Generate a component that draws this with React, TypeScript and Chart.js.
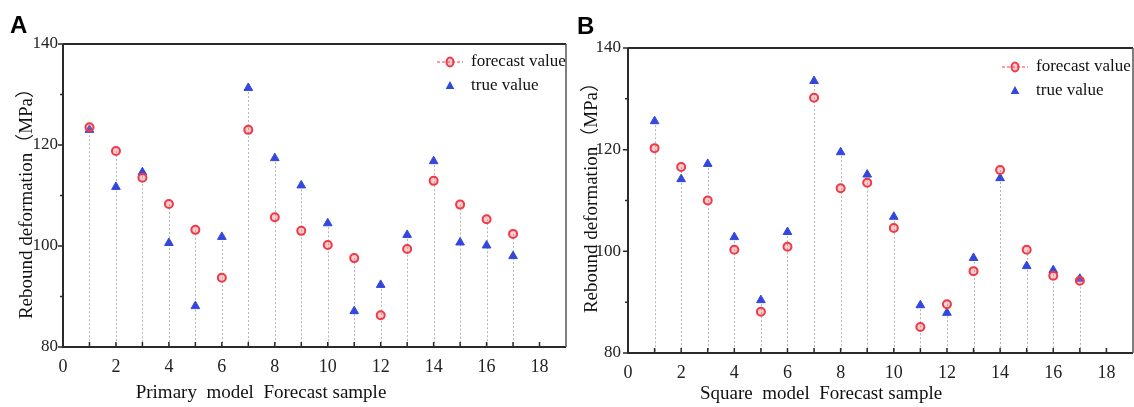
import { useEffect, useRef } from "react";
import { Chart, registerables } from "chart.js";

Chart.register(...registerables);

// Forecast sample numbers (x positions)
const samples = [1, 2, 3, 4, 5, 6, 7, 8, 9, 10, 11, 12, 13, 14, 15, 16, 17];

// Primary model (panel A), rebound deformation in MPa
const primaryForecast = [123.5, 118.8, 113.5, 108.3, 103.2, 93.7, 123.0, 105.7, 103.0, 100.2, 97.6, 86.3, 99.4, 112.9, 108.2, 105.3, 102.4];
const primaryTrue = [123.0, 111.7, 114.6, 100.6, 88.1, 101.8, 131.3, 117.4, 112.0, 104.5, 87.1, 92.3, 102.2, 116.8, 100.7, 100.1, 98.0];

// Square model (panel B)
const squareForecast = [120.3, 116.6, 110.0, 100.3, 88.1, 100.9, 130.2, 112.4, 113.5, 104.6, 85.1, 89.6, 96.1, 116.0, 100.3, 95.2, 94.2];
const squareTrue = [125.6, 114.2, 117.2, 102.8, 90.4, 103.8, 133.5, 119.5, 115.1, 106.8, 89.4, 87.9, 98.7, 114.4, 97.1, 96.3, 94.6];

// Axis ranges and labels
const xMin = 0;
const xMax = 19;
const xTickLabels = [0, 2, 4, 6, 8, 10, 12, 14, 16, 18];
const yMin = 80;
const yMax = 140;
const yTickLabels = [80, 100, 120, 140];
const yMinorTicks = [90, 110, 130];

const SERIF = '"Liberation Serif", "Times New Roman", "Noto Sans CJK SC", serif';
const SANS = '"Liberation Sans", Arial, sans-serif';
const RED = "#ee3a46";
const BLUE = "#3347dc";

type PanelLayout = {
  letter: string;
  xTitle: string;
  forecast: number[];
  truth: number[];
  padTop: number;
  yAxisWidth: number;
  xAxisHeight: number;
  tickPad: number;
  letterPos: [number, number];
  yTitlePos: [number, number];
  xTitlePos: [number, number];
  legendMarkX: number;
  legendY: number;
  legendTextX: number;
};

function drawTriangle(ctx: CanvasRenderingContext2D, x: number, y: number, r: number) {
  ctx.beginPath();
  ctx.moveTo(x, y - r);
  ctx.lineTo(x + r * 0.87, y + r * 0.6);
  ctx.lineTo(x - r * 0.87, y + r * 0.6);
  ctx.closePath();
  ctx.fillStyle = BLUE;
  ctx.fill();
}

function drawCircleMark(ctx: CanvasRenderingContext2D, x: number, y: number) {
  ctx.beginPath();
  ctx.ellipse(x, y, 3.5, 4.5, 0, 0, Math.PI * 2);
  ctx.fillStyle = "rgba(240,110,120,0.35)";
  ctx.fill();
  ctx.lineWidth = 2;
  ctx.strokeStyle = RED;
  ctx.stroke();
}

function makePlugin(p: PanelLayout) {
  return {
    id: "panelDecor",
    beforeDatasetsDraw(chart: any) {
      const { ctx, chartArea, scales } = chart;
      ctx.save();
      ctx.strokeStyle = "#b4b4b4";
      ctx.lineWidth = 1;
      ctx.setLineDash([2, 2]);
      samples.forEach((s, i) => {
        const top = Math.max(p.forecast[i], p.truth[i]);
        const x = Math.round(scales.x.getPixelForValue(s)) + 0.5;
        ctx.beginPath();
        ctx.moveTo(x, scales.y.getPixelForValue(top));
        ctx.lineTo(x, chartArea.bottom);
        ctx.stroke();
      });
      ctx.restore();
    },
    afterDraw(chart: any) {
      const { ctx, chartArea, scales } = chart;
      const { left, right, top, bottom } = chartArea;
      ctx.save();

      // frame
      ctx.strokeStyle = "#2a2a2a";
      ctx.lineWidth = 2;
      ctx.beginPath();
      ctx.moveTo(left, top);
      ctx.lineTo(right, top);
      ctx.moveTo(left, top);
      ctx.lineTo(left, bottom);
      ctx.lineTo(right, bottom);
      ctx.stroke();
      ctx.strokeStyle = "#555";
      ctx.lineWidth = 1.5;
      ctx.beginPath();
      ctx.moveTo(right, top);
      ctx.lineTo(right, bottom);
      ctx.stroke();

      // tick marks: y outward, x inward
      ctx.strokeStyle = "#2a2a2a";
      ctx.lineWidth = 1.5;
      ctx.beginPath();
      yTickLabels.forEach((v) => {
        const y = scales.y.getPixelForValue(v);
        ctx.moveTo(left, y);
        ctx.lineTo(left - 5, y);
      });
      yMinorTicks.forEach((v) => {
        const y = scales.y.getPixelForValue(v);
        ctx.moveTo(left, y);
        ctx.lineTo(left - 3, y);
      });
      for (let v = xMin + 1; v < xMax; v++) {
        const x = scales.x.getPixelForValue(v);
        ctx.moveTo(x, bottom);
        ctx.lineTo(x, bottom - 5);
      }
      ctx.stroke();

      // legend
      const lx = p.legendMarkX;
      const ly = p.legendY;
      ctx.strokeStyle = RED;
      ctx.lineWidth = 1;
      ctx.setLineDash([3, 2]);
      ctx.beginPath();
      ctx.moveTo(lx - 13, ly);
      ctx.lineTo(lx + 13, ly);
      ctx.stroke();
      ctx.setLineDash([]);
      drawCircleMark(ctx, lx, ly);
      drawTriangle(ctx, lx, ly + 24, 5);
      ctx.fillStyle = "#111";
      ctx.font = `17px ${SERIF}`;
      ctx.textAlign = "left";
      ctx.textBaseline = "middle";
      ctx.fillText("forecast value", p.legendTextX, ly);
      ctx.fillText("true value", p.legendTextX, ly + 24);

      // axis titles
      ctx.textAlign = "center";
      ctx.font = `19px ${SERIF}`;
      ctx.fillText(p.xTitle, p.xTitlePos[0], p.xTitlePos[1]);
      ctx.save();
      ctx.translate(p.yTitlePos[0], p.yTitlePos[1]);
      ctx.rotate(-Math.PI / 2);
      ctx.fillText("Rebound deformation（MPa）", 0, 0);
      ctx.restore();

      // panel letter
      ctx.fillStyle = "#000";
      ctx.font = `bold 24px ${SANS}`;
      ctx.textAlign = "left";
      ctx.fillText(p.letter, p.letterPos[0], p.letterPos[1]);
      ctx.restore();
    },
  };
}

function Panel({ layout, left }: { layout: PanelLayout; left: number }) {
  const ref = useRef<HTMLCanvasElement | null>(null);

  useEffect(() => {
    if (!ref.current) return;
    const p = layout;
    const chart = new Chart(ref.current, {
      type: "scatter",
      data: {
        datasets: [
          {
            label: "forecast value",
            data: samples.map((s, i) => ({ x: s, y: p.forecast[i] })),
            pointStyle: "circle",
            pointRadius: 4,
            borderWidth: 2,
            borderColor: RED,
            backgroundColor: "rgba(240,110,120,0.35)",
            borderDash: [3, 2],
          },
          {
            label: "true value",
            data: samples.map((s, i) => ({ x: s, y: p.truth[i] })),
            pointStyle: "triangle",
            pointRadius: 5,
            borderWidth: 1,
            borderColor: BLUE,
            backgroundColor: BLUE,
          },
        ],
      },
      options: {
        responsive: false,
        maintainAspectRatio: false,
        animation: false,
        layout: { autoPadding: false, padding: { top: p.padTop, right: 1, left: 0, bottom: 0 } },
        plugins: {
          legend: { display: false },
          tooltip: { enabled: false },
        },
        scales: {
          x: {
            type: "linear",
            min: xMin,
            max: xMax,
            grid: { display: false, drawTicks: true, tickLength: 9 },
            border: { display: false },
            ticks: {
              stepSize: 1,
              autoSkip: false,
              maxRotation: 0,
              padding: 0,
              color: "#222",
              font: { family: SERIF, size: 18 },
              callback: (v: any) => (xTickLabels.includes(Number(v)) ? String(v) : ""),
            },
            afterFit: (s: any) => {
              s.height = p.xAxisHeight;
            },
          },
          y: {
            type: "linear",
            min: yMin,
            max: yMax,
            grid: { display: false, drawTicks: false },
            border: { display: false },
            ticks: {
              stepSize: 10,
              autoSkip: false,
              padding: p.tickPad,
              color: "#222",
              font: { family: SERIF, size: 17 },
              callback: (v: any) => (yTickLabels.includes(Number(v)) ? String(v) : ""),
            },
            afterFit: (s: any) => {
              s.width = p.yAxisWidth;
            },
          },
        },
      },
      plugins: [makePlugin(p)],
    });
    return () => chart.destroy();
  }, [layout]);

  return (
    <canvas
      ref={ref}
      width={567}
      height={407}
      style={{ position: "absolute", left, top: 0, width: 567, height: 407, display: "block" }}
    />
  );
}

const panelA: PanelLayout = {
  letter: "A",
  xTitle: "Primary  model  Forecast sample",
  forecast: primaryForecast,
  truth: primaryTrue,
  padTop: 44,
  yAxisWidth: 63,
  xAxisHeight: 60,
  tickPad: 5,
  letterPos: [10, 26],
  yTitlePos: [27, 199],
  xTitlePos: [261, 393],
  legendMarkX: 450,
  legendY: 62,
  legendTextX: 471,
};

const panelB: PanelLayout = {
  letter: "B",
  xTitle: "Square  model  Forecast sample",
  forecast: squareForecast,
  truth: squareTrue,
  padTop: 48,
  yAxisWidth: 61,
  xAxisHeight: 54,
  tickPad: 7,
  letterPos: [10, 27],
  yTitlePos: [25, 193],
  xTitlePos: [254, 394],
  legendMarkX: 448,
  legendY: 67,
  legendTextX: 469,
};

export default function App() {
  return (
    <div style={{ position: "absolute", left: 0, top: 0, width: 1134, height: 407, background: "#fff" }}>
      <Panel layout={panelA} left={0} />
      <Panel layout={panelB} left={567} />
    </div>
  );
}
